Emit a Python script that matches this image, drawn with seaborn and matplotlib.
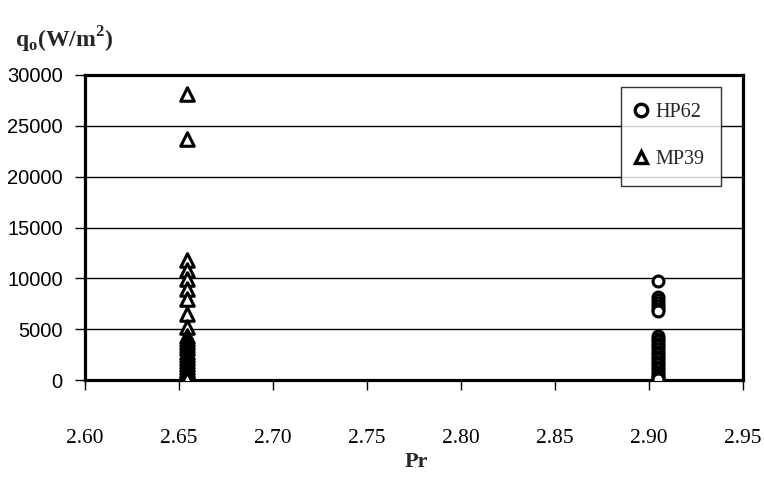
import matplotlib
matplotlib.use("Agg")
import matplotlib.pyplot as plt
import seaborn as sns
import pandas as pd
from matplotlib.lines import Line2D

# Heat flux q_o measured at two Prandtl numbers for two fluids
hp62_q = [9750, 8200, 7900, 7600, 7300, 7000, 6800,
          4300, 4050, 3800, 3550, 3300, 3050, 2800, 2550, 2300, 2050,
          1800, 1550, 1300, 1050, 800, 600, 400, 200, 50]
hp62_pr = [2.905] * len(hp62_q)

mp39_q = [28100, 23700, 11800, 10800, 9900, 9000, 8000, 6500, 5200,
          4300, 4000, 3700, 3400, 3100, 2800, 2500, 2200, 1900, 1600,
          1300, 1000, 750, 500, 300, 100]
mp39_pr = [2.654] * len(mp39_q)

series_names = ["HP62", "MP39"]
x_ticks = [2.60, 2.65, 2.70, 2.75, 2.80, 2.85, 2.90, 2.95]
y_ticks = [0, 5000, 10000, 15000, 20000, 25000, 30000]

df = pd.DataFrame({
    "Pr": hp62_pr + mp39_pr,
    "q": hp62_q + mp39_q,
    "fluid": [series_names[0]] * len(hp62_q) + [series_names[1]] * len(mp39_q),
})

sns.set_style("white")
plt.rcParams["mathtext.fontset"] = "custom"
plt.rcParams["mathtext.rm"] = "Liberation Serif"
plt.rcParams["mathtext.bf"] = "Liberation Serif:bold"

fig = plt.figure(figsize=(7.64, 4.78), dpi=100)
ax = fig.add_axes([85 / 764, 98 / 478, 658 / 764, 305 / 478])

markers = {"HP62": "o", "MP39": "^"}
sizes = {"HP62": 62, "MP39": 95}
for name in series_names:
    sub = df[df["fluid"] == name]
    sns.scatterplot(data=sub, x="Pr", y="q", marker=markers[name],
                    s=sizes[name], facecolor="white", edgecolor="black",
                    linewidth=2.2, ax=ax, legend=False, zorder=3)

ax.set_xlim(2.60, 2.95)
ax.set_ylim(0, 30000)
ax.set_xticks(x_ticks)
ax.set_xticklabels([f"{v:.2f}" for v in x_ticks], fontfamily="Liberation Serif",
                   fontsize=15.5)
ax.set_yticks(y_ticks)
ax.set_yticklabels([str(v) for v in y_ticks], fontfamily="Liberation Sans",
                   fontsize=14.5)
ax.tick_params(axis="x", direction="out", length=7, width=1, pad=28, colors="black")
ax.tick_params(axis="y", direction="out", length=7, width=1, pad=9, colors="black")
ax.xaxis.set_ticks_position("bottom")
ax.yaxis.set_ticks_position("left")

for v in y_ticks[1:-1]:
    ax.axhline(v, color="black", lw=1.0, zorder=1)

for sp in ax.spines.values():
    sp.set_visible(True)
    sp.set_color("black")
    sp.set_linewidth(2.3)

ax.set_xlabel("")
ax.set_ylabel("")

fig.text(416 / 764, 1 - 462 / 478, "Pr", ha="center", va="center",
         fontfamily="Liberation Serif", fontweight="bold", fontsize=16)
fig.text(15 / 764, 1 - 40 / 478,
         r"$\mathbf{q}_{\mathbf{o}}\mathbf{(W/m}^{\mathbf{2}}\mathbf{)}$",
         ha="left", va="center", fontsize=17)

handles = [Line2D([], [], linestyle="none", marker=markers[n], markersize=9,
                  markerfacecolor="white", markeredgecolor="black",
                  markeredgewidth=2.4) for n in series_names]
leg = ax.legend(handles, series_names, loc="upper left",
                bbox_to_anchor=(0.815, 0.961), borderaxespad=0,
                frameon=True, fancybox=False, edgecolor="black",
                prop={"family": "Liberation Serif", "size": 14.5},
                labelspacing=1.4, handlelength=0.4, handletextpad=0.5,
                borderpad=0.8)
leg.get_frame().set_linewidth(1.0)
leg.set_zorder(5)

fig.savefig("out.png", dpi=100, facecolor="white")
